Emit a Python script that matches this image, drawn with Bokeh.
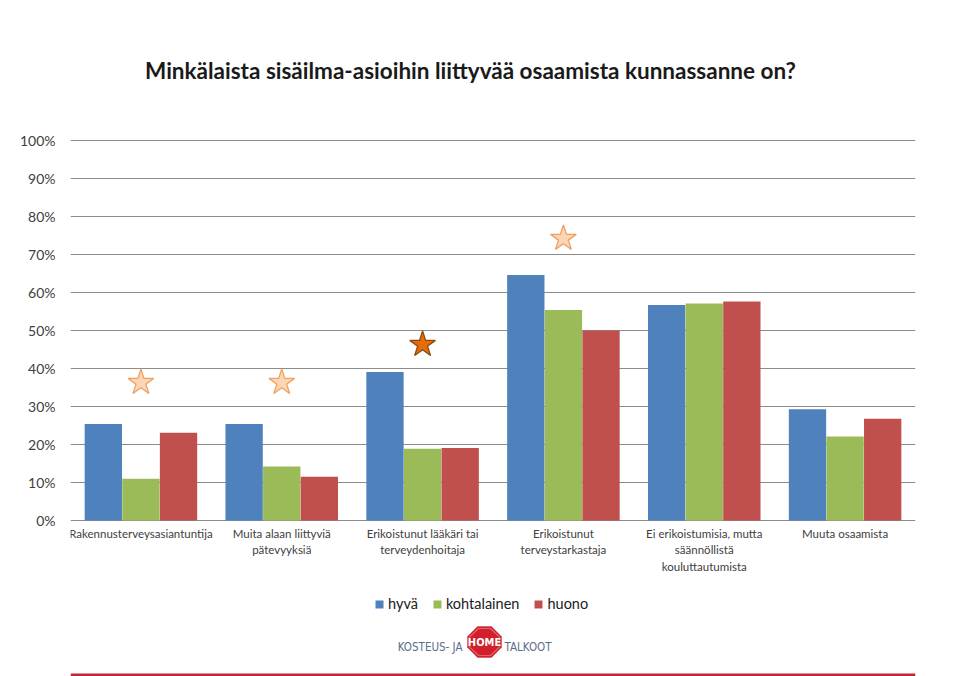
from bokeh.plotting import figure
from bokeh.models import (ColumnDataSource, FactorRange, Label, Legend, LegendItem, Range1d,
                          NumeralTickFormatter, FixedTicker, PolyAnnotation, BoxAnnotation)
from bokeh.transform import dodge
from bokeh.core.properties import value
from bokeh.embed import file_html
from bokeh.resources import INLINE

# ---- data ----
categories = [
    "Rakennusterveysasiantuntija",
    "Muita alaan liittyviä\npätevyyksiä",
    "Erikoistunut lääkäri tai\nterveydenhoitaja",
    "Erikoistunut\nterveystarkastaja",
    "Ei erikoistumisia, mutta\nsäännöllistä\nkouluttautumista",
    "Muuta osaamista",
]
series_names = ["hyvä", "kohtalainen", "huono"]
hyva = [0.254, 0.254, 0.391, 0.646, 0.567, 0.293]
kohtalainen = [0.110, 0.142, 0.189, 0.554, 0.571, 0.221]
huono = [0.231, 0.115, 0.191, 0.500, 0.576, 0.268]
y_ticks = [0.0, 0.1, 0.2, 0.3, 0.4, 0.5, 0.6, 0.7, 0.8, 0.9, 1.0]
star_categories = categories[:4]
star_values = [0.363, 0.363, 0.463, 0.742]
star_strong = [False, False, True, False]
title_text = "Minkälaista sisäilma-asioihin liittyvää osaamista kunnassanne on?"
logo_left, logo_mid, logo_right = "KOSTEUS- JA", "HOME", "TALKOOT"

FONT = "Lato"
colors = ["#4f81bd", "#9bbb59", "#c0504d"]

H = 676            # figure height
PX_PER_UNIT = 380  # 100% spans 380 px
ZERO_Y = 520       # canvas y of 0%

src = ColumnDataSource(dict(cat=categories, hyva=hyva, kohtalainen=kohtalainen, huono=huono,
                            zero=[0.0] * len(categories)))
star_src = ColumnDataSource(dict(
    cat=star_categories, val=star_values,
    fill=["#e46c0a" if s else "#fcd5b4" for s in star_strong],
    line=["#8a4a10" if s else "#f0a060" for s in star_strong],
))

y_start = -(H - ZERO_Y) / PX_PER_UNIT
y_end = 1 + (ZERO_Y - PX_PER_UNIT) / PX_PER_UNIT
p = figure(width=959, height=H, x_range=FactorRange(*categories, range_padding=0),
           y_range=Range1d(y_start, y_end), output_backend="svg", toolbar_location=None,
           min_border_left=70, min_border_right=44, min_border_top=0, min_border_bottom=0)
p.outline_line_color = None
p.background_fill_color = "white"
p.border_fill_color = "white"

p.xaxis.visible = False
p.xgrid.grid_line_color = None
p.ygrid.ticker = FixedTicker(ticks=y_ticks)
p.ygrid.grid_line_color = "#8c8c8c"
p.ygrid.grid_line_width = 1

p.yaxis.ticker = FixedTicker(ticks=y_ticks)
p.yaxis.formatter = NumeralTickFormatter(format="0%")
p.yaxis.axis_line_color = None
p.yaxis.major_tick_line_color = None
p.yaxis.minor_tick_line_color = None
p.yaxis.major_tick_out = 0
p.yaxis.major_label_standoff = 15
p.yaxis.major_label_text_font = FONT
p.yaxis.major_label_text_font_size = "14px"
p.yaxis.major_label_text_color = "#404040"

# category labels under the baseline
p.text(x="cat", y="zero", text="cat", source=src, y_offset=6, text_align="center",
       text_baseline="top", text_font=value(FONT), text_font_size="11.5px",
       text_line_height=1.3, text_color="#404040")

w = 0.265
renderers = []
for off, col, name in zip([-0.267, 0.0, 0.267], colors, ["hyva", "kohtalainen", "huono"]):
    r = p.vbar(x=dodge("cat", off, range=p.x_range), top=name, width=w, source=src,
               fill_color=col, line_color=None)
    renderers.append(r)

p.scatter(x="cat", y="val", marker="star", size=27, source=star_src,
          fill_color="fill", line_color="line", line_width=1.3)

legend = Legend(items=[LegendItem(label=n, renderers=[r]) for n, r in zip(series_names, renderers)],
                orientation="horizontal", location=(304, H - 612),
                glyph_width=10, glyph_height=10, label_standoff=4, spacing=14,
                padding=0, margin=0, border_line_color=None, background_fill_alpha=0,
                label_text_font=FONT, label_text_font_size="14.5px", label_text_color="#202020")
p.add_layout(legend, "center")

# title (screen units relative to frame: x from frame left, y up from frame bottom)
p.add_layout(Label(x=470 - 70, y=H - 70, x_units="screen", y_units="screen", text=title_text,
                   text_align="center", text_baseline="middle", text_font=FONT,
                   text_font_size="22.5px", text_font_style="bold", text_color="#1a1a1a"))

# logo
LOGO_FONT = "DejaVu Sans Condensed"
oct_x = [477, 491, 501, 501, 491, 477, 467, 467]
oct_y = [626, 626, 636, 647, 657, 657, 647, 636]
in_x = [478, 490, 499, 499, 490, 478, 469, 469]
in_y = [628, 628, 636.5, 646.5, 655, 655, 646.5, 636.5]
p.add_layout(PolyAnnotation(xs=[v - 70 for v in oct_x], ys=[H - v for v in oct_y],
                            xs_units="screen", ys_units="screen",
                            fill_color="#d21f2b", fill_alpha=1, line_color="#b51822", line_width=1))
p.add_layout(PolyAnnotation(xs=[v - 70 for v in in_x], ys=[H - v for v in in_y],
                            xs_units="screen", ys_units="screen",
                            fill_color="#d21f2b", fill_alpha=1, line_color="white", line_width=1.2))
p.add_layout(Label(x=484 - 70, y=H - 642, x_units="screen", y_units="screen", text=logo_mid,
                   text_align="center", text_baseline="middle", text_font=LOGO_FONT,
                   text_font_size="11px", text_font_style="bold", text_color="white"))
p.add_layout(Label(x=462 - 70, y=H - 646, x_units="screen", y_units="screen", text=logo_left,
                   text_align="right", text_baseline="middle", text_font=LOGO_FONT,
                   text_font_size="11.5px", text_color="#5a6e8a"))
p.add_layout(Label(x=504 - 70, y=H - 646, x_units="screen", y_units="screen", text=logo_right,
                   text_align="left", text_baseline="middle", text_font=LOGO_FONT,
                   text_font_size="11.5px", text_color="#5a6e8a"))

# thin red rule along the bottom edge
p.add_layout(BoxAnnotation(bottom=0, top=3, bottom_units="screen", top_units="screen",
                           fill_color="#c0283a", fill_alpha=1, line_color=None))

open("out.html", "w").write(file_html(p, INLINE))
